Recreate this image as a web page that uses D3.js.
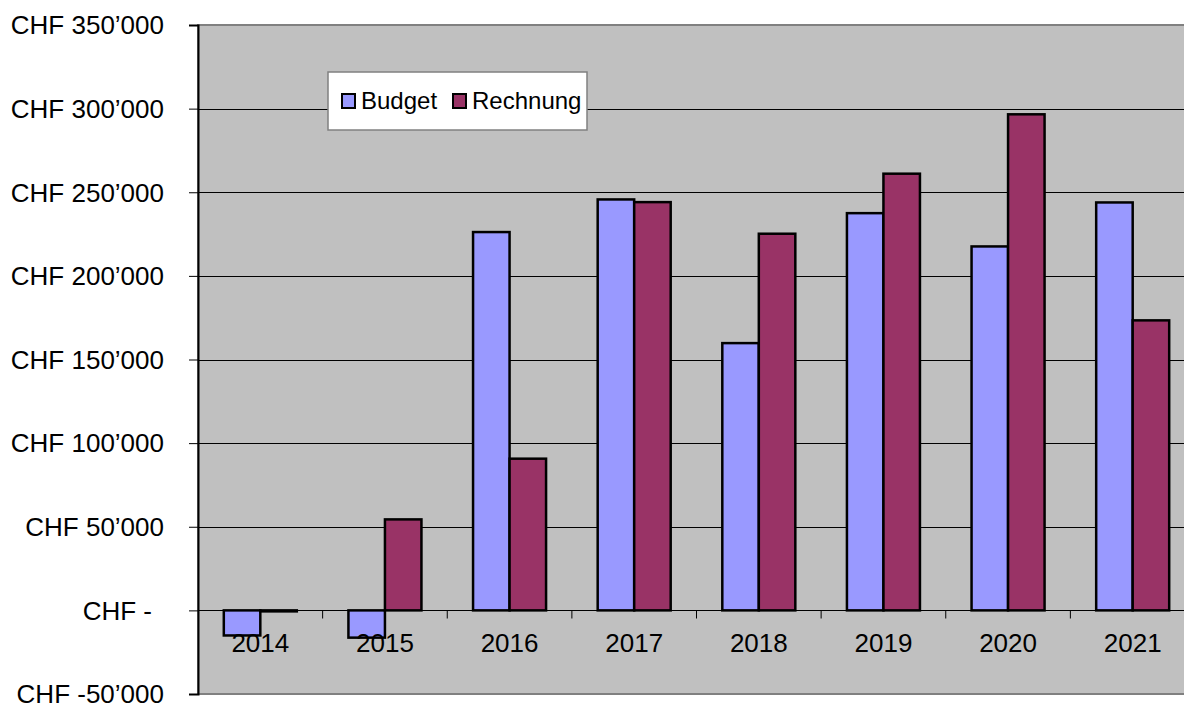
<!DOCTYPE html>
<html>
<head>
<meta charset="utf-8">
<script src="https://cdn.jsdelivr.net/npm/d3@7"></script>
<style>
  body { margin: 0; background: #fff; }
  svg { display: block; font-family: "Liberation Sans", Arial, sans-serif; }
</style>
</head>
<body>
<svg id="chart" width="1184" height="705"></svg>
<script>
// values
var years = ["2014", "2015", "2016", "2017", "2018", "2019", "2020", "2021"];
var budget = [-15000, -16300, 226200, 245700, 159800, 237500, 217600, 243900];
var rechnung = [-600, 54400, 90700, 244100, 225200, 261100, 296600, 173400];
var seriesNames = ["Budget", "Rechnung"];
var seriesColors = ["#9999ff", "#993366"];
var yTicks = [-50000, 0, 50000, 100000, 150000, 200000, 250000, 300000, 350000];

var svg = d3.select("#chart");

// plot area edges (note: "top" is taken by window.top)
var plotL = 198, plotT = 25, plotR = 1195, plotB = 694;

var x = d3.scaleBand().domain(years).range([plotL, plotR]).paddingInner(0).paddingOuter(0);
var sub = d3.scaleBand().domain(seriesNames).range([0, x.bandwidth()]).paddingInner(0).paddingOuter(0.707);
var y = d3.scaleLinear().domain([-50000, 350000]).range([plotB, plotT]);

function chf(v) {
  if (v === 0) return "CHF -";
  return "CHF " + d3.format(",")(v).replace(/,/g, "\u2019").replace("\u2212", "-");
}

// plot area
svg.append("rect")
  .attr("x", plotL).attr("y", plotT)
  .attr("width", plotR - plotL).attr("height", plotB - plotT)
  .attr("fill", "#c0c0c0")
  .attr("stroke", "#808080")
  .attr("stroke-width", 2);

// gridlines
svg.append("g")
  .selectAll("line")
  .data(yTicks.filter(d => d > -50000 && d < 350000))
  .enter().append("line")
  .attr("x1", plotL).attr("x2", plotR)
  .attr("y1", d => Math.round(y(d)) + 0.5).attr("y2", d => Math.round(y(d)) + 0.5)
  .attr("stroke", "#000")
  .attr("stroke-width", 1);

// y axis
var yAxis = svg.append("g")
  .attr("transform", `translate(${plotL},0)`)
  .call(d3.axisLeft(y).tickValues(yTicks).tickFormat(chf).tickSize(9).tickPadding(25));
yAxis.select(".domain").attr("stroke", "#000").attr("stroke-width", 2);
yAxis.selectAll(".tick line").attr("stroke", "#000");
yAxis.selectAll(".tick text")
  .attr("font-size", 26)
  .attr("fill", "#000")
  .attr("font-family", "Liberation Sans, Arial, sans-serif")
  .attr("x", d => d === 0 ? -46 : -34)
  .attr("dy", "0.34em");

// bars
var groups = svg.append("g")
  .selectAll("g")
  .data(years)
  .enter().append("g")
  .attr("transform", d => `translate(${x(d)},0)`);

groups.selectAll("rect")
  .data((d, i) => [
    { name: "Budget", value: budget[i] },
    { name: "Rechnung", value: rechnung[i] }
  ])
  .enter().append("rect")
  .attr("x", d => sub(d.name))
  .attr("width", sub.bandwidth())
  .attr("y", d => y(Math.max(0, d.value)))
  .attr("height", d => Math.abs(y(d.value) - y(0)))
  .attr("fill", (d, i) => seriesColors[i])
  .attr("stroke", "#000")
  .attr("stroke-width", 2.5);

// x axis at zero
var xAxis = svg.append("g")
  .attr("transform", `translate(0,${Math.round(y(0)) + 0.5})`);
xAxis.append("line")
  .attr("x1", plotL).attr("x2", plotR)
  .attr("stroke", "#000");
xAxis.selectAll(".tk")
  .data(years.slice(1))
  .enter().append("line")
  .attr("class", "tk")
  .attr("x1", d => x(d)).attr("x2", d => x(d))
  .attr("y1", 0).attr("y2", 8)
  .attr("stroke", "#000");
xAxis.selectAll("text")
  .data(years)
  .enter().append("text")
  .attr("x", d => x(d) + x.bandwidth() / 2)
  .attr("y", 41)
  .attr("text-anchor", "middle")
  .attr("font-size", 26)
  .attr("fill", "#000")
  .text(d => d);

// legend
var legend = svg.append("g").attr("transform", "translate(328,72)");
legend.append("rect")
  .attr("width", 259).attr("height", 58)
  .attr("fill", "#fff")
  .attr("stroke", "#808080")
  .attr("stroke-width", 1.5);
var items = legend.selectAll(".item")
  .data(seriesNames)
  .enter().append("g")
  .attr("class", "item")
  .attr("transform", (d, i) => `translate(${i === 0 ? 14 : 125},0)`);
items.append("rect")
  .attr("x", 0).attr("y", 22)
  .attr("width", 13).attr("height", 14)
  .attr("fill", (d, i) => seriesColors[i])
  .attr("stroke", "#000")
  .attr("stroke-width", 2);
items.append("text")
  .attr("x", 19).attr("y", 37)
  .attr("font-size", 24)
  .attr("fill", "#000")
  .text(d => d);
</script>
</body>
</html>
